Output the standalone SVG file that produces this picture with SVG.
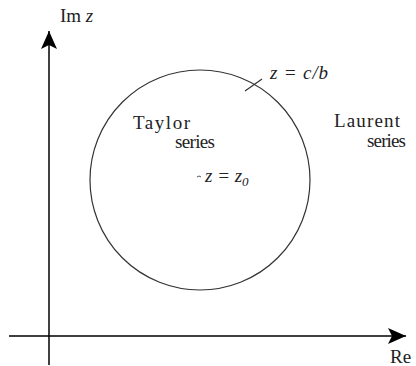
<svg xmlns="http://www.w3.org/2000/svg" width="416" height="366" viewBox="0 0 416 366">
<style>
.t{font-family:"Liberation Serif","Times New Roman",serif;font-size:19px;fill:#222}
.i{font-style:italic}
.ax{stroke:#000;stroke-width:1.5;fill:none}
</style>
<defs>
<marker id="ah" markerWidth="20" markerHeight="16" refX="18" refY="8" orient="auto" markerUnits="userSpaceOnUse">
<path d="M0,0 L18,8 L0,16 L4,8 Z" fill="#000"/>
</marker>
</defs>
<rect width="416" height="366" fill="#fff"/>
<g id="connectors">
<line class="ax" x1="49" y1="365" x2="49" y2="31" marker-end="url(#ah)"/>
<line class="ax" x1="9" y1="336" x2="406" y2="336" marker-end="url(#ah)"/>
</g>
<g id="circle">
<circle cx="200" cy="180" r="110" fill="none" stroke="#333" stroke-width="1.2"/>
<line x1="245" y1="91" x2="262" y2="79" stroke="#333" stroke-width="1.2"/>
</g>
<g id="im-label"><text class="t" x="60" y="22">Im <tspan class="i">z</tspan></text></g>
<g id="re-label"><text class="t" x="390" y="363">Re</text></g>
<g id="cb-label"><text class="t i" x="270" y="79" textLength="58">z = c/b</text></g>
<g id="taylor"><text class="t" x="133" y="129" textLength="57">Taylor</text><text class="t" x="175" y="148" textLength="40">series</text></g>
<g id="laurent"><text class="t" x="334" y="127" textLength="66">Laurent</text><text class="t" x="367" y="147" textLength="39">series</text></g>
<g id="z0">
<path d="M197,177 q2,-2 4,0" fill="none" stroke="#555" stroke-width="1"/>
<text class="t i" x="205" y="182">z = z<tspan font-size="13" dy="4">0</tspan></text>
</g>
</svg>
